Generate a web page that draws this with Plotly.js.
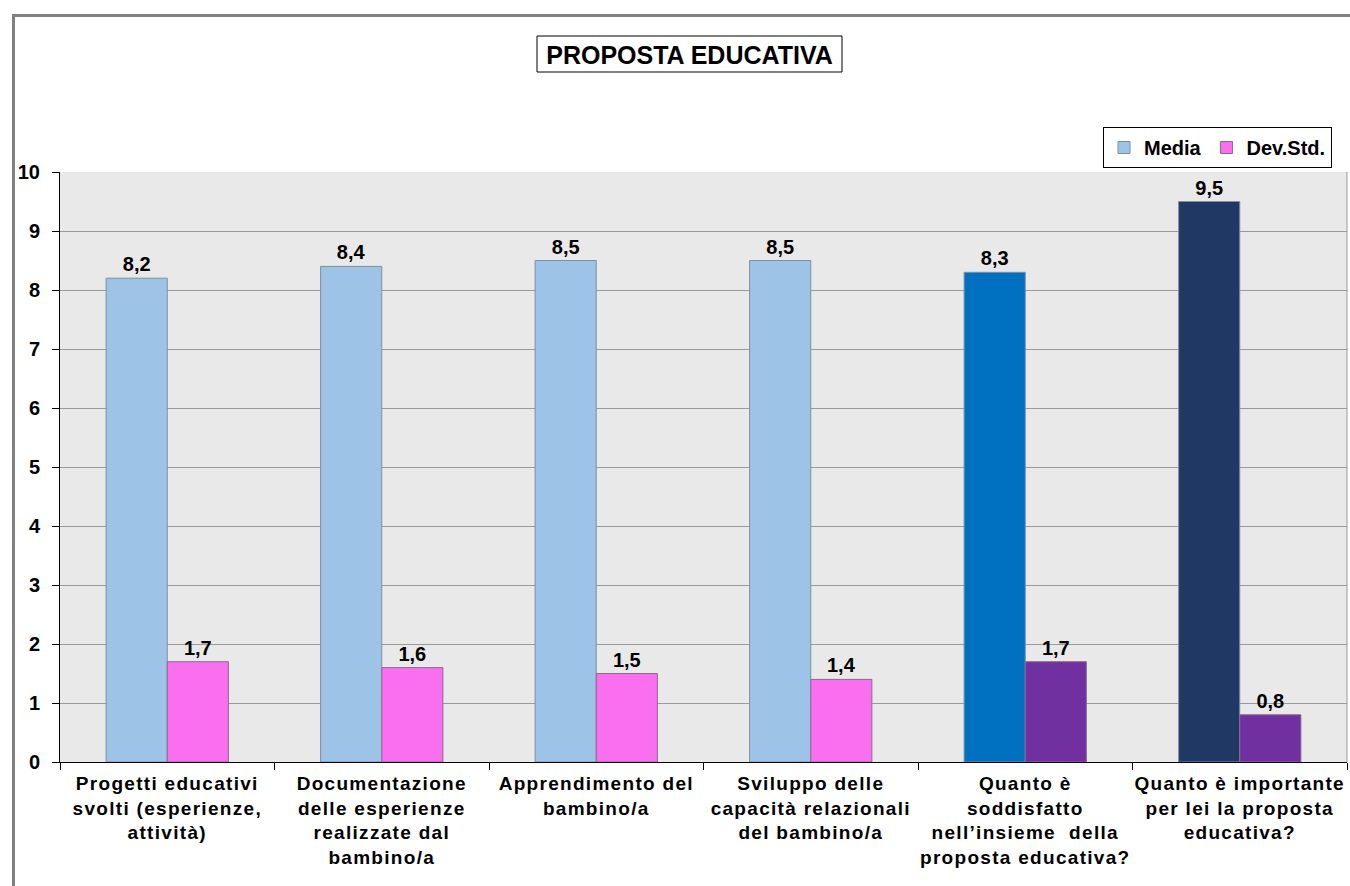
<!DOCTYPE html>
<html>
<head>
<meta charset="utf-8">
<script src="https://cdn.plot.ly/plotly-3.0.1.min.js"></script>
<style>
html,body{margin:0;padding:0;background:#fff;}
#wrap{position:relative;width:1350px;height:886px;overflow:hidden;}
#chart{position:absolute;left:0;top:0;width:1350px;height:886px;}
#frame{position:absolute;left:12px;top:14px;width:1400px;height:900px;border-left:3px solid #808080;border-top:3px solid #808080;pointer-events:none;}
#chart .xtick text{letter-spacing:1.3px;}
</style>
</head>
<body>
<div id="wrap"><div id="chart"></div><div id="frame"></div></div>
<script>
var categories = [
  "Progetti educativi<br>svolti (esperienze,<br>attività)",
  "Documentazione<br>delle esperienze<br>realizzate dal<br>bambino/a",
  "Apprendimento del<br>bambino/a",
  "Sviluppo delle<br>capacità relazionali<br>del bambino/a",
  "Quanto è<br>soddisfatto<br>nell’insieme  della<br>proposta educativa?",
  "Quanto è importante<br>per lei la proposta<br>educativa?"
];
var media = [8.2, 8.4, 8.5, 8.5, 8.3, 9.5];
var devStd = [1.7, 1.6, 1.5, 1.4, 1.7, 0.8];
var seriesNames = ["Media", "Dev.Std."];
var mediaColors = ["#9DC3E6","#9DC3E6","#9DC3E6","#9DC3E6","#0070C0","#1F3864"];
var devColors = ["#FA6EF0","#FA6EF0","#FA6EF0","#FA6EF0","#7030A0","#7030A0"];
var titleText = "PROPOSTA EDUCATIVA";

var font = "Arial, 'Liberation Sans', sans-serif";
var textFont = {family: font, size: 20, color: "#000", weight: "bold"};

var traces = [
  {type: "bar", name: seriesNames[0], x: categories, y: media,
   marker: {color: mediaColors, line: {color: "#7f8fa0", width: 1}},
   texttemplate: "%{y:.1f}", textposition: "outside", cliponaxis: false,
   textfont: textFont, hoverinfo: "y"},
  {type: "bar", name: seriesNames[1], x: categories, y: devStd,
   marker: {color: devColors, line: {color: "#8a6a8a", width: 1}},
   texttemplate: "%{y:.1f}", textposition: "outside", cliponaxis: false,
   textfont: textFont, hoverinfo: "y"}
];

var L = 60, R = 3, T = 172, B = 124;
var pw = 1350 - L - R, ph = 886 - T - B;
function px(x){ return (x - L) / pw; }
function py(y){ return (886 - B - y) / ph; }

var layout = {
  width: 1350, height: 886,
  margin: {l: L, r: R, t: T, b: B, pad: 0, autoexpand: false},
  paper_bgcolor: "#ffffff",
  plot_bgcolor: "#e9e9e9",
  separators: ",.",
  barmode: "group",
  bargap: 0.43,
  bargroupgap: 0,
  font: {family: font, color: "#000"},
  title: {text: "<b>" + titleText + "</b>", font: {family: font, size: 25, color: "#000"},
          xref: "paper", x: px(689.5), xanchor: "center", yref: "container", y: 1 - 55/886, yanchor: "middle"},
  showlegend: true,
  legend: {orientation: "h", x: px(1103), xanchor: "left", y: py(127), yanchor: "top",
           bordercolor: "#000", borderwidth: 1, bgcolor: "#fff",
           font: {family: font, size: 20, color: "#000", weight: "bold"},
           traceorder: "normal", tracegroupgap: 0},
  xaxis: {type: "category", showline: true, linecolor: "#000", linewidth: 1,
          ticks: "outside", tickson: "boundaries", ticklen: 7, tickcolor: "#000",
          ticklabelstandoff: 4,
          tickfont: {family: font, size: 19, color: "#000", weight: "bold"},
          showgrid: false, fixedrange: true},
  yaxis: {range: [0, 10], dtick: 1, showline: true, linecolor: "#000", linewidth: 1,
          ticks: "outside", ticklen: 7, tickcolor: "#000",
          ticklabelstandoff: 8,
          tickfont: {family: font, size: 20, color: "#000", weight: "bold"},
          gridcolor: "#9a9a9a", gridwidth: 1, zeroline: false, fixedrange: true},
  shapes: [
    {type: "rect", xref: "paper", yref: "paper", x0: px(537), x1: px(842), y0: py(72), y1: py(36),
     line: {color: "#000", width: 1}, fillcolor: "rgba(0,0,0,0)"},
    {type: "line", xref: "paper", yref: "paper", x0: 1, x1: 1, y0: 0, y1: 1,
     line: {color: "#9a9a9a", width: 1}}
  ]
};

Plotly.newPlot("chart", traces, layout, {displayModeBar: false, staticPlot: true});
</script>
</body>
</html>
